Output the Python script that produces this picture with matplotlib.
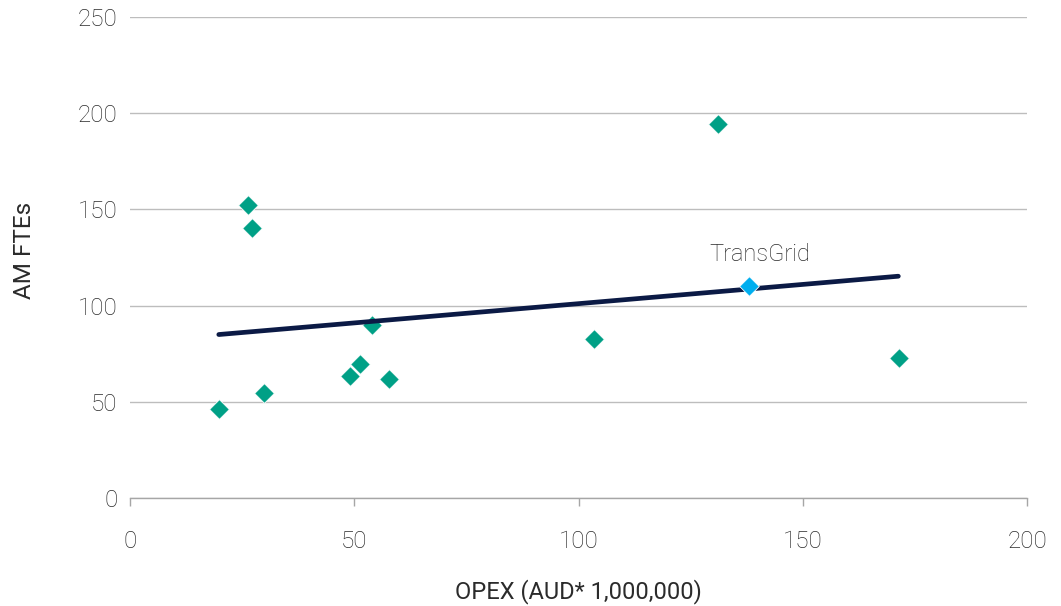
import matplotlib
matplotlib.use('Agg')
import matplotlib.pyplot as plt

plt.rcParams['font.family'] = ['Roboto', 'DejaVu Sans']
plt.rcParams['font.weight'] = 'light'

# Asset management staff vs operating expenditure
opex = [19.8, 26.3, 27.2, 29.9, 49.1, 51.3, 54.0, 57.7, 103.5, 131.1, 171.5]
am_ftes = [46.5, 152.5, 140.3, 54.5, 63.5, 69.7, 90.2, 61.7, 82.8, 194.3, 72.8]

transgrid_opex = 138.0
transgrid_ftes = 110.0

# Linear trend end points
trend_x = [19.8, 171.3]
trend_y = [85.0, 115.3]

text_col = '#2B2B2B'

fig = plt.figure(figsize=(10.61, 6.06), dpi=100)
ax = fig.add_axes([0.1225, 0.178, 0.8455, 0.794])

ax.scatter(opex, am_ftes, marker='D', s=100, color='#00A086', edgecolors='white',
           linewidths=0.6, zorder=3)
ax.plot(trend_x, trend_y, color='#0B1A45', linewidth=3.4, solid_capstyle='round', zorder=4)
ax.scatter([transgrid_opex], [transgrid_ftes], marker='D', s=100, color='#00AEEF',
           edgecolors='white', linewidths=0.6, zorder=5)
ax.annotate('TransGrid', (transgrid_opex, transgrid_ftes), xytext=(8, 15),
            textcoords='offset points', ha='center', va='bottom', fontsize=17,
            color=text_col)

ax.set_xlim(0, 200)
ax.set_ylim(0, 250)
ax.set_xticks([0, 50, 100, 150, 200])
ax.set_yticks([0, 50, 100, 150, 200, 250])

ax.grid(axis='y', color='#BDBDBD', linewidth=1.0)
ax.set_axisbelow(True)
for side in ['left', 'right', 'top']:
    ax.spines[side].set_visible(False)
ax.spines['bottom'].set_color('#A6A6A6')
ax.spines['bottom'].set_linewidth(1.0)

ax.tick_params(axis='x', length=6, width=1, color='#A6A6A6', pad=17,
               labelsize=17.5, labelcolor=text_col)
ax.tick_params(axis='y', length=0, pad=9, labelsize=17.5, labelcolor=text_col)

ax.set_xlabel('OPEX (AUD* 1,000,000)', fontsize=17, color=text_col, labelpad=19)
ax.set_ylabel('AM FTEs', fontsize=17.5, color=text_col)
ax.yaxis.set_label_coords(-0.105, 0.515)

fig.savefig('out.png', dpi=100)
